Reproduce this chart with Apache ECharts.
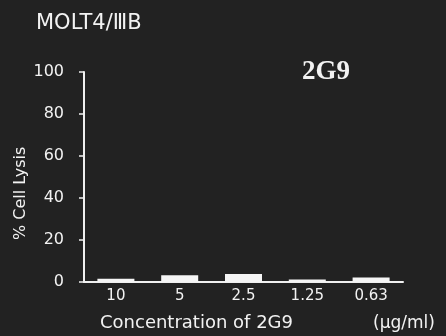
<!DOCTYPE html>
<html><head><meta charset="utf-8">
<script src="https://cdn.jsdelivr.net/npm/echarts@6/dist/echarts.min.js"></script>
<style>html,body{margin:0;padding:0;background:#222;}#c{width:446px;height:336px;}</style>
</head><body><div id="c"></div>
<script>
const categories = ['10', '5', '2.5', '1.25', '0.63'];
const lysis = [1.6, 3.2, 3.8, 1.2, 2.1];
const yTicks = [0, 20, 40, 60, 80, 100];

const chart = echarts.init(document.getElementById('c'));
const txt = '#f2f2f2';
chart.setOption({
  backgroundColor: '#222222',
  animation: false,
  grid: {left: 84, right: 43, top: 72, bottom: 54},
  graphic: [
    {type: 'text', left: 36, top: 13, style: {text: 'MOLT4/ⅢB', fill: txt, font: '21px "DejaVu Sans"'}},
    {type: 'text', left: 302, top: 59, style: {text: '2G9', fill: txt, font: 'bold 27px "Liberation Serif"'}},
    {type: 'text', left: 100, top: 314, style: {text: 'Concentration of 2G9', fill: txt, font: '18px "DejaVu Sans"'}},
    {type: 'text', left: 373, top: 315, style: {text: '(μg/ml)', fill: txt, font: '17px "DejaVu Sans"'}},
    {type: 'text', x: 13, y: 240, rotation: Math.PI / 2, style: {text: '% Cell Lysis', fill: txt, font: '16px "DejaVu Sans"', textBaseline: 'top'}}
  ],
  xAxis: {
    type: 'category', data: categories,
    axisLine: {lineStyle: {color: '#f0f0f0', width: 2}},
    axisTick: {show: false},
    axisLabel: {color: txt, fontSize: 15, fontFamily: 'DejaVu Sans', margin: 7}
  },
  yAxis: {
    type: 'value', min: 0, max: 100, interval: 20,
    splitLine: {show: false},
    axisLine: {show: true, lineStyle: {color: '#f0f0f0', width: 2}},
    axisTick: {show: true, length: 5, lineStyle: {color: '#f0f0f0', width: 1.5}},
    axisLabel: {color: txt, fontSize: 16, fontFamily: 'DejaVu Sans', margin: 20,
      formatter: v => yTicks.includes(v) ? String(v) : ''}
  },
  series: [{
    type: 'bar', data: lysis, barWidth: '58%',
    itemStyle: {color: '#f5f5f5'}
  }]
});
</script></body></html>
